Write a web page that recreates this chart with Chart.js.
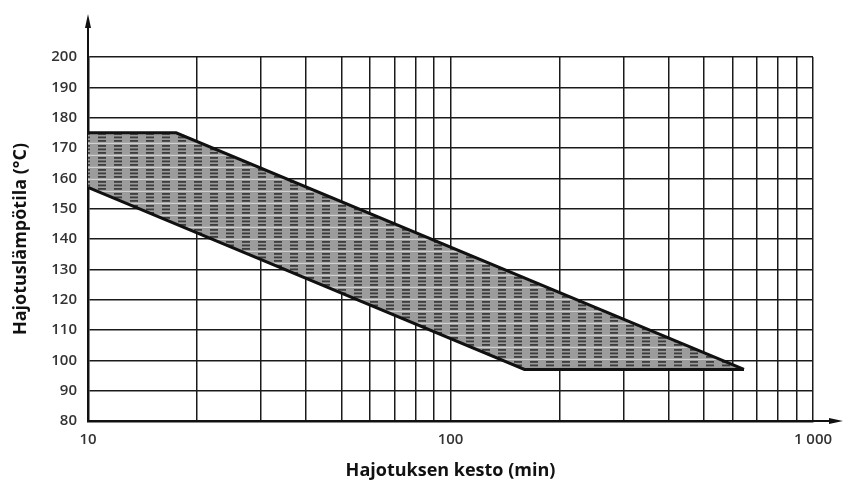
<!DOCTYPE html>
<html>
<head>
<meta charset="utf-8">
<script src="https://cdn.jsdelivr.net/npm/chart.js@4"></script>
<style>
  html, body { margin: 0; padding: 0; background: #fff; }
  #wrap { width: 845px; height: 482px; }
</style>
</head>
<body>
<div id="wrap"><canvas id="chart" width="845" height="482"></canvas></div>
<script>
// axis ticks
const xTicks = [10, 20, 30, 40, 50, 60, 70, 80, 90, 100, 200, 300, 400, 500, 600, 700, 800, 900, 1000];
const xLabels = { 10: '10', 100: '100', 1000: '1 000' };
const yMin = 80, yMax = 200, yStep = 10;

// band boundaries (minutes, °C)
const upperX = [10, 17.5, 645];
const upperY = [175, 175, 97];
const lowerX = [10, 160, 645];
const lowerY = [157, 97, 97];

const tickFont = { family: "'Open Sans', 'Noto Sans', sans-serif", size: 15, weight: 600 };
const titleFont = { family: "'Open Sans', 'Noto Sans', sans-serif", size: 18, weight: 'bold' };

// hatched grey fill like the scanned drawing
function makeHatch() {
    const c = document.createElement('canvas');
    c.width = 16; c.height = 12;
    const g = c.getContext('2d');
    g.fillStyle = '#9c9c9c';
    g.fillRect(0, 0, 16, 12);
    g.fillStyle = '#3c3c3c';
    [1, 4.5, 8].forEach(y => g.fillRect(2, y, 8, 1.8));
    g.fillStyle = '#dcdcdc';
    g.fillRect(0, 10.8, 16, 1);
    return g.createPattern(c, 'repeat');
}

const toPts = (xs, ys) => xs.map((x, i) => ({ x: x, y: ys[i] }));

// arrows at the ends of both axes
const arrows = {
    id: 'arrows',
    afterDraw(chart) {
        const { ctx, chartArea: a } = chart;
        ctx.save();
        ctx.strokeStyle = '#111';
        ctx.fillStyle = '#111';
        ctx.lineWidth = 2;
        ctx.beginPath();
        ctx.moveTo(a.left, a.top);
        ctx.lineTo(a.left, 22);
        ctx.moveTo(a.right, a.bottom);
        ctx.lineTo(835, a.bottom);
        ctx.stroke();
        ctx.beginPath();
        ctx.moveTo(a.left, 14);
        ctx.lineTo(a.left - 3, 28);
        ctx.lineTo(a.left + 3, 28);
        ctx.closePath();
        ctx.fill();
        ctx.beginPath();
        ctx.moveTo(843, a.bottom);
        ctx.lineTo(829, a.bottom - 3);
        ctx.lineTo(829, a.bottom + 3);
        ctx.closePath();
        ctx.fill();
        ctx.restore();
    }
};

new Chart(document.getElementById('chart'), {
    type: 'line',
    data: {
        datasets: [
            {
                label: 'lower',
                data: toPts(lowerX, lowerY),
                borderColor: '#111',
                borderWidth: 3,
                pointRadius: 0,
                fill: false
            },
            {
                label: 'upper',
                data: toPts(upperX, upperY),
                borderColor: '#111',
                borderWidth: 3,
                pointRadius: 0,
                fill: '-1',
                backgroundColor: makeHatch()
            }
        ]
    },
    options: {
        responsive: false,
        animation: false,
        layout: { padding: { top: 57, right: 32, left: 0, bottom: 0 } },
        plugins: {
            legend: { display: false },
            tooltip: { enabled: false }
        },
        scales: {
            x: {
                type: 'logarithmic',
                min: 10,
                max: 1000,
                afterBuildTicks: (s) => { s.ticks = xTicks.map(v => ({ value: v })); },
                afterFit: (s) => { s.height = 61; },
                grid: { color: '#1a1a1a', lineWidth: 1.5, drawTicks: false },
                border: { color: '#111', width: 2.5 },
                ticks: {
                    autoSkip: false,
                    maxRotation: 0,
                    padding: 10,
                    color: '#333',
                    font: tickFont,
                    callback: (v) => xLabels[v] || ''
                },
                title: {
                    display: true,
                    text: 'Hajotuksen kesto (min)',
                    color: '#111',
                    font: titleFont,
                    padding: { top: 3, bottom: 0 }
                }
            },
            y: {
                min: yMin,
                max: yMax,
                afterFit: (s) => { s.width = 88; },
                grid: { color: '#1a1a1a', lineWidth: 1.5, drawTicks: false },
                border: { color: '#111', width: 2.5 },
                ticks: {
                    stepSize: yStep,
                    padding: 11,
                    color: '#333',
                    font: tickFont
                },
                title: {
                    display: true,
                    text: 'Hajotuslämpötila (°C)',
                    color: '#111',
                    font: titleFont,
                    padding: { top: 10, bottom: 0 }
                }
            }
        }
    },
    plugins: [arrows]
});
</script>
</body>
</html>
